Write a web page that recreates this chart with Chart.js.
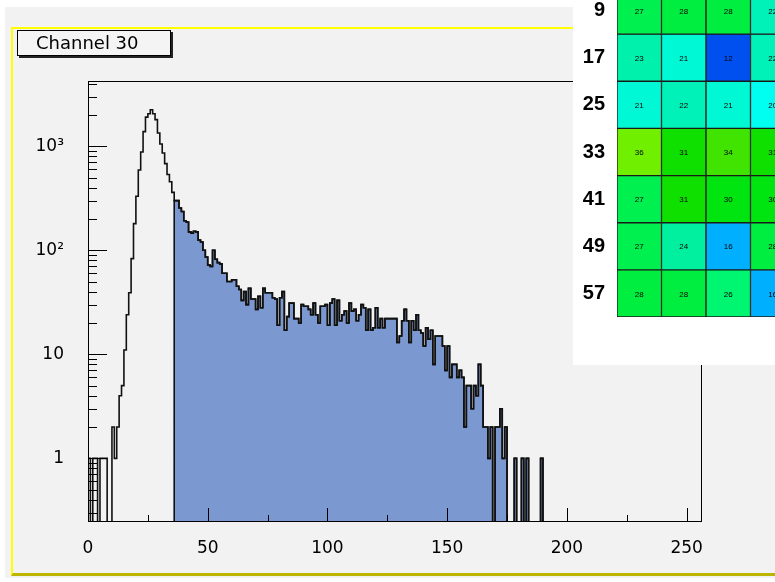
<!DOCTYPE html>
<html>
<head>
<meta charset="utf-8">
<script src="https://cdn.jsdelivr.net/npm/chart.js@4.4.1/dist/chart.umd.min.js"></script>
<style>
  html, body { margin: 0; padding: 0; background: #fff; }
  body { position: relative; width: 775px; height: 582px; overflow: hidden; font-family: 'DejaVu Sans', sans-serif; }
  #pad { position: absolute; left: 5px; top: 7px; width: 780px; height: 571px; background: #f2f2f2; }
  #frame { position: absolute; left: 11px; top: 27px; width: 800px; height: 544px;
           border-top: 2px solid #ffff00; border-left: 2px solid #ffff00; border-bottom: 3px solid #bdb600; }
  #hist { position: absolute; left: 0; top: 0; }
  #title { position: absolute; left: 17px; top: 30px; width: 134px; height: 24px; padding-left: 18px;
           border: 1px solid #000; box-shadow: 2px 2px 0 #222; background: #f4f4f4;
           font-size: 18px; line-height: 24px; color: #000; }
  #panel { position: absolute; left: 573px; top: 0; width: 202px; height: 365px; background: #fff; overflow: hidden; }
  #map { position: absolute; left: 0; top: -30px; }
</style>
</head>
<body>
<div id="pad"></div>
<div id="frame"></div>
<canvas id="hist" width="775" height="582"></canvas>
<div id="title">Channel 30</div>
<div id="panel"><canvas id="map" width="240" height="380"></canvas></div>
<script>
// bin contents of channel 30, bins 0..255
const counts = [
    1, 0, 1, 1, 0, 1, 1, 1, 0, 0, 2, 1, 2, 4, 5, 11,
    24, 39, 83, 180, 330, 590, 880, 1380, 1900, 2050, 2240, 2050, 1800, 1340, 1050, 860,
    680, 535, 455, 360, 300, 300, 255, 236, 192, 187, 150, 146, 152, 150, 125, 120,
    100, 86, 72, 70, 100, 82, 76, 74, 60, 60, 50, 50, 52, 52, 45, 42,
    33, 40, 30, 43, 34, 34, 27, 36, 28, 43, 39, 39, 39, 35, 34, 19,
    35, 40, 17, 23, 31, 31, 22, 22, 20, 30, 29, 29, 27, 24, 31, 24,
    20, 29, 29, 30, 19, 31, 34, 19, 33, 21, 24, 26, 20, 31, 26, 27,
    21, 24, 30, 28, 17, 27, 17, 18, 28, 18, 22, 18, 22, 22, 22, 22,
    22, 13, 15, 21, 27, 21, 13, 21, 17, 24, 17, 16, 12, 18, 14, 17,
    8, 15, 15, 15, 12, 7, 12, 6, 8, 8, 6, 7, 6, 2, 5, 5,
    3, 5, 4, 8, 5, 2, 2, 1, 2, 0, 2, 2, 3, 1, 2, 0,
    0, 0, 1, 0, 0, 1, 0, 1, 0, 0, 0, 0, 0, 1, 0, 0,
    0, 0, 0, 0, 0, 0, 0, 0, 0, 0, 0, 0, 0, 0, 0, 0,
    0, 0, 0, 0, 0, 0, 0, 0, 0, 0, 0, 0, 0, 0, 0, 0,
    0, 0, 0, 0, 0, 0, 0, 0, 0, 0, 0, 0, 0, 0, 0, 0,
    0, 0, 0, 0, 0, 0, 0, 0, 0, 0, 0, 0, 0, 0, 0, 0,
];
const fillFrom = 36;   // shaded part starts here
const xTickValues = [0, 50, 100, 150, 200, 250];
const yTickValues = [1, 10, 100, 1000];
const yTickLabels = ['1', '10', '10²', '10³'];

// channel map in the corner
const rowLabels = ['9', '17', '25', '33', '41', '49', '57'];
const columnLabels = ['1', '2', '3', '4'];
const row9 = [27, 28, 28, 22];
const row17 = [23, 21, 12, 22];
const row25 = [21, 22, 21, 20];
const row33 = [36, 31, 34, 31];
const row41 = [27, 31, 30, 30];
const row49 = [27, 24, 16, 28];
const row57 = [28, 28, 26, 16];
const cellRows = [row9, row17, row25, row33, row41, row49, row57];

const paletteStops = [
    [12, [0, 80, 240]], [16, [0, 176, 255]], [20, [0, 255, 240]], [21, [0, 248, 212]],
    [22, [0, 242, 184]], [24, [0, 240, 160]], [26, [0, 245, 112]], [27, [0, 240, 80]],
    [28, [0, 238, 64]], [30, [0, 228, 16]], [31, [16, 224, 0]], [34, [64, 228, 0]], [36, [112, 240, 0]],
];

function cellColor(v) {
    for (let k = 1; k < paletteStops.length; k++) {
        const [v0, c0] = paletteStops[k - 1];
        const [v1, c1] = paletteStops[k];
        if (v <= v1) {
            const t = Math.max(0, (v - v0) / (v1 - v0));
            return 'rgb(' + c0.map((c, j) => Math.round(c + (c1[j] - c) * t)).join(',') + ')';
        }
    }
    return 'rgb(112,240,0)';
}

// empty bins go below the axis so the outline drops to the bottom (clipped)
const floor = 0.1;
function steps(from) {
    const pts = [{ x: from, y: floor }];
    for (let i = from; i < counts.length; i++) {
        pts.push({ x: i, y: counts[i] > 0 ? counts[i] : floor });
    }
    pts.push({ x: counts.length, y: floor });
    return pts;
}

// ROOT style frame and inward ticks
const rootTicks = {
    id: 'rootTicks',
    afterDraw(chart) {
        const { ctx, chartArea: a, scales: { x, y } } = chart;
        ctx.save();
        ctx.strokeStyle = '#000';
        ctx.lineWidth = 1;
        ctx.strokeRect(Math.round(a.left) + 0.5, Math.round(a.top) + 0.5,
            Math.round(a.right - a.left), Math.round(a.bottom - a.top));
        ctx.beginPath();
        for (let v = 0; v <= x.max; v += 25) {
            const px = Math.round(x.getPixelForValue(v)) + 0.5;
            const len = v % 50 === 0 ? 13 : 6;
            ctx.moveTo(px, a.bottom);
            ctx.lineTo(px, a.bottom - len);
        }
        for (let e = -1; e <= 3; e++) {
            for (let m = 1; m <= 9; m++) {
                const v = m * Math.pow(10, e);
                if (v < y.min || v > y.max) continue;
                const py = Math.round(y.getPixelForValue(v)) + 0.5;
                ctx.moveTo(a.left, py);
                ctx.lineTo(a.left + (m === 1 ? 19 : 9), py);
            }
        }
        ctx.stroke();
        ctx.restore();
    }
};

new Chart(document.getElementById('hist'), {
    type: 'line',
    data: {
        datasets: [
            { data: steps(0), stepped: true, borderColor: '#111', borderWidth: 1.6, fill: false },
            { data: steps(fillFrom), stepped: true, borderColor: '#111', borderWidth: 1.6,
              backgroundColor: '#7b99d0', fill: 'start' },
        ],
    },
    options: {
        responsive: false,
        animation: false,
        devicePixelRatio: 1,
        elements: { point: { radius: 0 }, line: { tension: 0 } },
        layout: { padding: { left: 0, top: 81, right: 74, bottom: 0 } },
        plugins: { legend: { display: false }, tooltip: { enabled: false } },
        scales: {
            x: {
                type: 'linear', min: 0, max: 256,
                grid: { display: false }, border: { display: false },
                afterBuildTicks: s => { s.ticks = xTickValues.map(v => ({ value: v })); },
                afterFit: s => { s.height = 61; s.paddingLeft = 0; s.paddingRight = 0; },
                ticks: { color: '#000', font: { family: 'DejaVu Sans', size: 17 }, padding: 9, maxRotation: 0, autoSkip: false },
            },
            y: {
                type: 'logarithmic', min: 0.25, max: 4230,
                grid: { display: false }, border: { display: false },
                afterBuildTicks: s => { s.ticks = yTickValues.map(v => ({ value: v })); },
                afterFit: s => { s.width = 88; s.paddingTop = 0; s.paddingBottom = 0; },
                ticks: { color: '#000', font: { family: 'DejaVu Sans', size: 17 }, padding: 16, autoSkip: false,
                         callback: (v, i) => yTickLabels[i] },
            },
        },
    },
    plugins: [rootTicks],
});

// numbers inside the map cells
const cellText = {
    id: 'cellText',
    afterDatasetsDraw(chart) {
        const ctx = chart.ctx;
        ctx.save();
        ctx.font = '8px "Liberation Sans"';
        ctx.fillStyle = '#000';
        ctx.textAlign = 'center';
        ctx.textBaseline = 'middle';
        chart.data.datasets.forEach((ds, di) => {
            chart.getDatasetMeta(di).data.forEach((bar, i) => {
                ctx.fillText(String(cellRows[di][i]), bar.x, (bar.y + bar.base) / 2 + 1);
            });
        });
        ctx.restore();
    }
};

new Chart(document.getElementById('map'), {
    type: 'bar',
    data: {
        labels: columnLabels,
        datasets: cellRows.map((row, r) => ({
            data: row.map(() => [r, r + 1]),
            backgroundColor: row.map(cellColor),
            borderColor: '#1a1a1a',
            borderWidth: 1,
            borderSkipped: false,
            grouped: false,
            barPercentage: 1,
            categoryPercentage: 1,
        })),
    },
    options: {
        responsive: false,
        animation: false,
        devicePixelRatio: 1,
        layout: { padding: { left: 0, top: 17, right: 18, bottom: 33 } },
        plugins: { legend: { display: false }, tooltip: { enabled: false } },
        scales: {
            x: { display: false },
            y: {
                min: 0, max: 7, reverse: true,
                grid: { display: false }, border: { display: false },
                afterBuildTicks: s => { s.ticks = rowLabels.map((_, i) => ({ value: i + 0.5 })); },
                afterFit: s => { s.width = 44; },
                ticks: { color: '#000', font: { family: 'Liberation Sans', size: 20, weight: 'bold' }, padding: 4,
                         callback: (v, i) => rowLabels[i] },
            },
        },
    },
    plugins: [cellText],
});
</script>
</body>
</html>
